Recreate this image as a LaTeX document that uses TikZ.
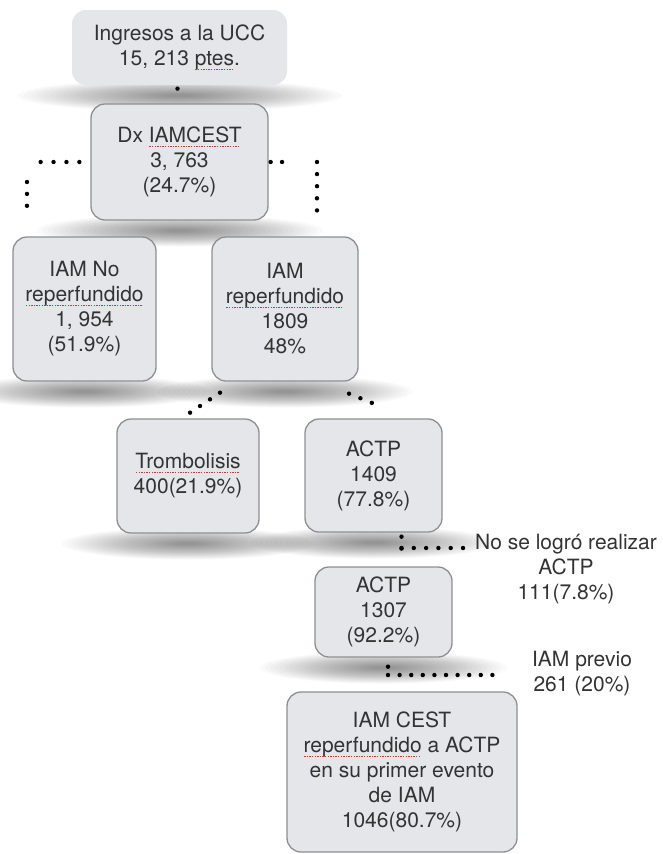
\documentclass[tikz,border=0pt]{standalone}
\usepackage{fontspec}
\setmainfont{TeX Gyre Heros}
\usetikzlibrary{calc}
\definecolor{boxfill}{HTML}{E4E6E9}
\definecolor{boxline}{HTML}{8E8F91}
\definecolor{txt}{HTML}{333333}
\definecolor{sqred}{HTML}{D23A3A}
\pgfdeclarelayer{back}
\pgfdeclarelayer{bg}
\pgfsetlayers{back,bg,main}
\newsavebox\sqbox
\newcommand\sq[1]{\sbox\sqbox{#1}\leavevmode\rlap{\usebox\sqbox}\raisebox{-4.5pt}{\textcolor{sqred}{\leaders\hbox to 2.6pt{\hss\rule{1.4pt}{1.4pt}\hss}\hskip\wd\sqbox}}}
% soft shadow: stacked translucent ellipses below a node; #2 = node width
\newcommand\boxshadow[2]{\foreach \k in {1,...,24}{\fill[black, opacity=0.019] ($(#1.south)+(0,10)$) ellipse ({(#2/2+55)*(1.04-\k*0.04)} and {16*(1.04-\k*0.04)});}}
\begin{document}
\begin{tikzpicture}[x=1pt,y=-1pt,
  box/.style={rectangle, rounded corners=14pt, fill=boxfill, draw=boxline, line width=1.3pt,
    align=center, text=txt, font=\fontsize{21}{25}\selectfont, inner sep=0pt},
  dots/.style={draw=black, line width=4.4pt, line cap=round, dash pattern=on 0pt off 11.9pt},
  note/.style={align=center, text=txt, font=\fontsize{21}{25}\selectfont, inner sep=0pt}]
\begin{pgfonlayer}{back}
\fill[white] (0,0) rectangle (663,854);
\end{pgfonlayer}
\useasboundingbox (0,0) rectangle (663,854);
\clip (0,0) rectangle (663,854);

\node[box, draw=none, minimum width=215pt, minimum height=75pt] (b1) at (179.5,47.5)
  {Ingresos a la UCC\\15, 213 \sq{ptes}.};
\node[box, minimum width=177pt, minimum height=116pt] (b2) at (179.5,162)
  {Dx \sq{IAMCEST}\\3, 763\\(24.7\%)};
\node[box, minimum width=143pt, minimum height=144pt] (b3) at (84.5,309)
  {IAM No\\\sq{reperfundido}\\1, 954\\(51.9\%)};
\node[box, minimum width=146pt, minimum height=144pt] (b4) at (285,309)
  {IAM\\\sq{reperfundido}\\1809\\48\%};
\node[box, minimum width=142pt, minimum height=114pt] (b5) at (188,476)
  {\sq{Trombolisis}\\400(21.9\%)};
\node[box, minimum width=137pt, minimum height=113pt] (b6) at (373.5,475.5)
  {ACTP\\1409\\(77.8\%)};
\node[box, minimum width=137pt, minimum height=90pt] (b7) at (383.5,612)
  {ACTP\\1307\\(92.2\%)};
\node[box, minimum width=230pt, minimum height=160pt] (b8) at (402,772)
  {IAM CEST\\\sq{reperfundido} a ACTP\\en su primer evento\\de IAM\\1046(80.7\%)};

\node[note] (n1) at (566,569) {No se logró realizar\\ACTP\\111(7.8\%)};
\node[note] (n2) at (582,674) {IAM previo\\261 (20\%)};

\begin{pgfonlayer}{bg}
\boxshadow{b1}{215}
\boxshadow{b2}{177}
\boxshadow{b3}{143}
\boxshadow{b4}{146}
\boxshadow{b5}{142}
\boxshadow{b6}{137}
\boxshadow{b7}{137}
\end{pgfonlayer}

% connectors
\draw[dots] ($(b1.south)+(-2,3)$) -- ($(b2.north)+(-2,-4)$);
\coordinate (lc) at (28,162);
\draw[dots, dash pattern=on 0pt off 12.9pt] ($(b2.west)+(-11,0)$) -- (lc);
\draw[dots] ($(lc)+(-1,20)$) -- ($(lc |- b3.north)+(-1,-19)$);
\coordinate (rc) at (317,162);
\draw[dots, dash pattern=on 0pt off 11.4pt] ($(b2.east)+(2,0)$) -- ($(rc)+(-24,0)$);
\draw[dots, dash pattern=on 0pt off 12.1pt] (rc) -- ($(rc |- b4.north)+(0,-15)$);
\draw[dots, dash pattern=on 0pt off 12pt] ($(b4.south)+(-65,11)$) -- ($(b5.north)+(1,-5)$);
\draw[dots, dash pattern=on 0pt off 12.3pt] ($(b4.south)+(64,12)$) -- ($(b6.north)+(9.5,-11)$);
\draw[dots] ($(b6.south)+(28,4)$) -- ($(b7.north)+(18,-8)$);
\coordinate (j1) at (401.5,548);
\coordinate (j1e) at (463.5,548);
\draw[dots, dash pattern=on 0pt off 12.3pt] (j1) -- (j1e);
\coordinate (j2) at (388,675);
\coordinate (j2e) at (493,675);
\draw[dots, dash pattern=on 0pt off 8.9pt] ($(b7.south)+(4.5,9)$) -- (j2);
\draw[dots, dash pattern=on 0pt off 11.6pt] (j2) -- (j2e);
\end{tikzpicture}
\end{document}
